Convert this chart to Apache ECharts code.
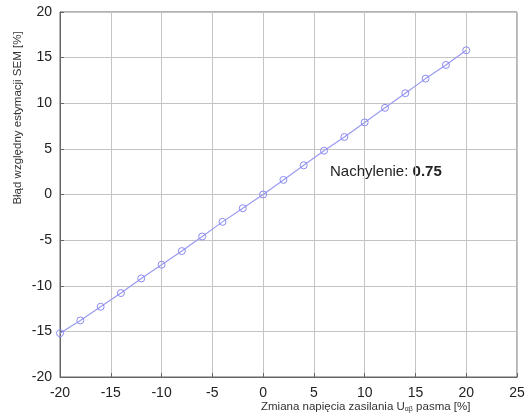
<!DOCTYPE html>
<html><head><meta charset="utf-8">
<script src="https://cdn.jsdelivr.net/npm/echarts@6/dist/echarts.min.js"></script>
<style>html,body{margin:0;padding:0;background:#fff}#c{width:532px;height:417px}</style>
</head><body><div id="c"></div>
<script>
var xValues = [-20,-18,-16,-14,-12,-10,-8,-6,-4,-2,0,2,4,6,8,10,12,14,16,18,20];
var yValues = [-15.2,-13.8,-12.3,-10.8,-9.2,-7.7,-6.2,-4.6,-3.0,-1.5,0,1.6,3.2,4.8,6.3,7.9,9.5,11.1,12.7,14.2,15.8];
var xTicks = {min:-20, max:25, interval:5};
var yTicks = {min:-20, max:20, interval:5};
var slopeText = '0.75';

var chart = echarts.init(document.getElementById('c'));
var font = 'Liberation Sans, Arial, sans-serif';
chart.setOption({
  animation:false,
  grid:{left:60, right:15, top:12, bottom:40},
  xAxis:{type:'value', min:xTicks.min, max:xTicks.max, interval:xTicks.interval,
    axisLine:{onZero:false, lineStyle:{color:'#666'}},
    axisTick:{inside:true, length:4, lineStyle:{color:'#666'}},
    axisLabel:{color:'#222', fontSize:14, fontFamily:font, margin:9},
    splitLine:{show:true, lineStyle:{color:'#c4c4c4'}}},
  yAxis:{type:'value', min:yTicks.min, max:yTicks.max, interval:yTicks.interval,
    axisLine:{show:true, onZero:false, lineStyle:{color:'#666'}},
    axisTick:{show:true, inside:true, length:4, lineStyle:{color:'#666'}},
    axisLabel:{color:'#222', fontSize:14, fontFamily:font, margin:8},
    splitLine:{show:true, lineStyle:{color:'#c4c4c4'}}},
  series:[{type:'line', data:xValues.map(function(x,i){return [x,yValues[i]];}),
    symbol:'circle', symbolSize:7,
    itemStyle:{color:'rgba(255,255,255,0)', borderColor:'#8a8af0', borderWidth:1},
    lineStyle:{color:'#9a9af2', width:1.2}}],
  graphic:[
    {type:'rect', shape:{x:60, y:12, width:457, height:365}, silent:true,
     style:{fill:'none', stroke:'#666', lineWidth:1}},
    {type:'text', left:330, top:164, style:{
      text:'{a|Nachylenie: }{b|'+slopeText+'}',
      rich:{a:{fontSize:15, fontFamily:font, fill:'#222'}, b:{fontSize:15, fontWeight:'bold', fontFamily:font, fill:'#222'}}}},
    {type:'text', left:261, top:401, style:{
      text:'{a|Zmiana napięcia zasilania U}{s|αβ}{a| pasma [%]}',
      rich:{a:{fontSize:11.5, fontFamily:font, fill:'#333'}, s:{fontSize:7, fontFamily:font, fill:'#333', padding:[5,0,0,0]}}}},
    {type:'text', x:18, y:118, rotation:Math.PI/2, style:{
      text:'Błąd względny estymacji SEM [%]', fontSize:11.5, fontFamily:font, fill:'#333',
      align:'center', verticalAlign:'middle'}}
  ]
});
</script></body></html>
